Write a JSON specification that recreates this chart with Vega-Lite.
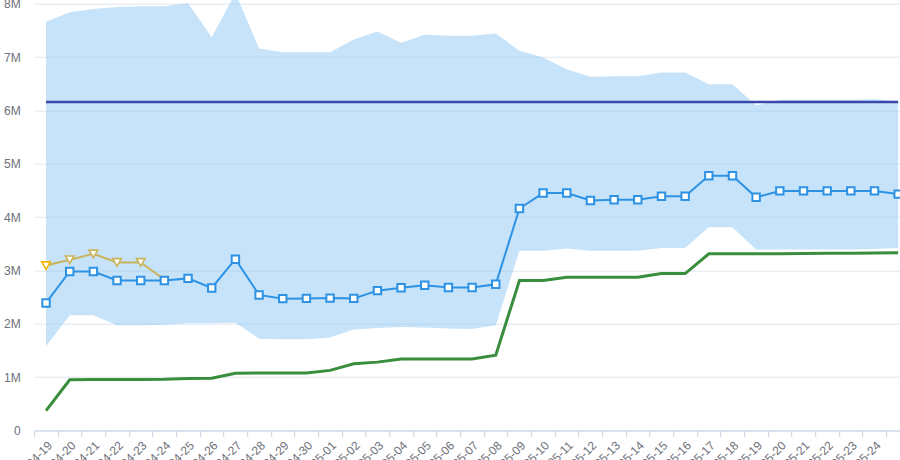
{
  "$schema": "https://vega.github.io/schema/vega-lite/v6.json",
  "autosize": {"type": "none"},
  "padding": {"left": 34.2, "top": 3.7, "right": 0, "bottom": 29.6},
  "width": 865.8,
  "height": 426.7,
  "background": "white",
  "config": {
    "view": {"stroke": null},
    "font": "Liberation Sans",
    "axis": {"labelFont": "Liberation Sans", "labelColor": "#6e7079", "labelFontSize": 12}
  },
  "data": {
    "values": [
      {"date": "04-19", "lo": 1580000, "hi": 7660000, "avg": 2390000, "gold": 3090000, "green": 370000, "target": 6155000},
      {"date": "04-20", "lo": 2160000, "hi": 7840000, "avg": 2980000, "gold": 3200000, "green": 950000, "target": 6155000},
      {"date": "04-21", "lo": 2160000, "hi": 7900000, "avg": 2980000, "gold": 3310000, "green": 955000, "target": 6155000},
      {"date": "04-22", "lo": 1970000, "hi": 7940000, "avg": 2810000, "gold": 3150000, "green": 955000, "target": 6155000},
      {"date": "04-23", "lo": 1970000, "hi": 7950000, "avg": 2810000, "gold": 3150000, "green": 955000, "target": 6155000},
      {"date": "04-24", "lo": 1980000, "hi": 7950000, "avg": 2810000, "gold": 2830000, "green": 960000, "target": 6155000},
      {"date": "04-25", "lo": 2010000, "hi": 8010000, "avg": 2850000, "gold": null, "green": 975000, "target": 6155000},
      {"date": "04-26", "lo": 2010000, "hi": 7370000, "avg": 2670000, "gold": null, "green": 980000, "target": 6155000},
      {"date": "04-27", "lo": 2020000, "hi": 8200000, "avg": 3210000, "gold": null, "green": 1070000, "target": 6155000},
      {"date": "04-28", "lo": 1720000, "hi": 7160000, "avg": 2540000, "gold": null, "green": 1075000, "target": 6155000},
      {"date": "04-29", "lo": 1710000, "hi": 7090000, "avg": 2470000, "gold": null, "green": 1075000, "target": 6155000},
      {"date": "04-30", "lo": 1710000, "hi": 7090000, "avg": 2475000, "gold": null, "green": 1075000, "target": 6155000},
      {"date": "05-01", "lo": 1740000, "hi": 7090000, "avg": 2480000, "gold": null, "green": 1125000, "target": 6155000},
      {"date": "05-02", "lo": 1890000, "hi": 7330000, "avg": 2475000, "gold": null, "green": 1250000, "target": 6155000},
      {"date": "05-03", "lo": 1920000, "hi": 7480000, "avg": 2620000, "gold": null, "green": 1280000, "target": 6155000},
      {"date": "05-04", "lo": 1940000, "hi": 7270000, "avg": 2675000, "gold": null, "green": 1340000, "target": 6155000},
      {"date": "05-05", "lo": 1930000, "hi": 7420000, "avg": 2720000, "gold": null, "green": 1340000, "target": 6155000},
      {"date": "05-06", "lo": 1910000, "hi": 7400000, "avg": 2680000, "gold": null, "green": 1340000, "target": 6155000},
      {"date": "05-07", "lo": 1900000, "hi": 7400000, "avg": 2680000, "gold": null, "green": 1340000, "target": 6155000},
      {"date": "05-08", "lo": 1970000, "hi": 7440000, "avg": 2740000, "gold": null, "green": 1410000, "target": 6155000},
      {"date": "05-09", "lo": 3370000, "hi": 7120000, "avg": 4160000, "gold": null, "green": 2810000, "target": 6155000},
      {"date": "05-10", "lo": 3370000, "hi": 6990000, "avg": 4450000, "gold": null, "green": 2810000, "target": 6155000},
      {"date": "05-11", "lo": 3410000, "hi": 6770000, "avg": 4450000, "gold": null, "green": 2870000, "target": 6155000},
      {"date": "05-12", "lo": 3370000, "hi": 6630000, "avg": 4310000, "gold": null, "green": 2870000, "target": 6155000},
      {"date": "05-13", "lo": 3370000, "hi": 6640000, "avg": 4325000, "gold": null, "green": 2870000, "target": 6155000},
      {"date": "05-14", "lo": 3370000, "hi": 6640000, "avg": 4325000, "gold": null, "green": 2870000, "target": 6155000},
      {"date": "05-15", "lo": 3420000, "hi": 6710000, "avg": 4390000, "gold": null, "green": 2940000, "target": 6155000},
      {"date": "05-16", "lo": 3420000, "hi": 6710000, "avg": 4390000, "gold": null, "green": 2940000, "target": 6155000},
      {"date": "05-17", "lo": 3810000, "hi": 6490000, "avg": 4775000, "gold": null, "green": 3310000, "target": 6155000},
      {"date": "05-18", "lo": 3810000, "hi": 6490000, "avg": 4775000, "gold": null, "green": 3310000, "target": 6155000},
      {"date": "05-19", "lo": 3390000, "hi": 6090000, "avg": 4370000, "gold": null, "green": 3310000, "target": 6155000},
      {"date": "05-20", "lo": 3390000, "hi": 6200000, "avg": 4490000, "gold": null, "green": 3310000, "target": 6155000},
      {"date": "05-21", "lo": 3390000, "hi": 6200000, "avg": 4490000, "gold": null, "green": 3315000, "target": 6155000},
      {"date": "05-22", "lo": 3390000, "hi": 6200000, "avg": 4490000, "gold": null, "green": 3320000, "target": 6155000},
      {"date": "05-23", "lo": 3390000, "hi": 6200000, "avg": 4490000, "gold": null, "green": 3320000, "target": 6155000},
      {"date": "05-24", "lo": 3400000, "hi": 6210000, "avg": 4490000, "gold": null, "green": 3325000, "target": 6155000},
      {"date": "05-25", "lo": 3420000, "hi": 6170000, "avg": 4430000, "gold": null, "green": 3330000, "target": 6155000}
    ]
  },
  "encoding": {
    "x": {
      "field": "date",
      "type": "ordinal",
      "sort": null,
      "bandPosition": 0.5,
      "scale": {"type": "band", "paddingInner": 0, "paddingOuter": 0, "range": [0, 875.8]},
      "axis": {
        "title": null,
        "labelAngle": -45,
        "tickBand": "extent",
        "values": ["04-19","04-20","04-21","04-22","04-23","04-24","04-25","04-26","04-27","04-28","04-29","04-30","05-01","05-02","05-03","05-04","05-05","05-06","05-07","05-08","05-09","05-10","05-11","05-12","05-13","05-14","05-15","05-16","05-17","05-18","05-19","05-20","05-21","05-22","05-23","05-24"],
        "domainColor": "#c5d0e3",
        "tickColor": "#c5d0e3",
        "tickSize": 6,
        "grid": false,
        "labelPadding": 3,
        "labelOverlap": false,
        "labelBound": false,
        "labelFontSize": 12
      }
    }
  },
  "layer": [
    {
      "mark": {"type": "area", "color": "#8ec8f6", "opacity": 0.5},
      "encoding": {
        "y": {
          "field": "lo",
          "type": "quantitative",
          "scale": {"domain": [0, 8000000], "nice": false, "zero": true},
          "axis": {
            "title": null,
            "values": [0, 1000000, 2000000, 3000000, 4000000, 5000000, 6000000, 7000000, 8000000],
            "labelExpr": "datum.value == 0 ? '0' : (datum.value / 1000000) + 'M'",
            "domain": false,
            "ticks": false,
            "tickSize": 0,
            "labelPadding": 14,
            "grid": true,
            "gridColor": "#e0e6f1",
            "gridWidth": 1
          }
        },
        "y2": {"field": "hi"}
      }
    },
    {
      "mark": {"type": "line", "color": "#3949ab", "strokeWidth": 2.5},
      "encoding": {"y": {"field": "target", "type": "quantitative"}}
    },
    {
      "mark": {"type": "line", "color": "#388e3c", "strokeWidth": 3},
      "encoding": {"y": {"field": "green", "type": "quantitative"}}
    },
    {
      "mark": {"type": "line", "color": "#c9b45c", "strokeWidth": 2},
      "encoding": {"y": {"field": "gold", "type": "quantitative"}}
    },
    {
      "transform": [{"filter": "datum.gold != null && datum.date != '04-24'"}],
      "mark": {"type": "point", "shape": "triangle-down", "filled": true, "fill": "white", "strokeWidth": 1.6, "size": 75, "opacity": 1},
      "encoding": {
        "y": {"field": "gold", "type": "quantitative"},
        "stroke": {
          "condition": {"test": "datum.date == '04-19'", "value": "#f2b600"},
          "value": "#c9b45c"
        }
      }
    },
    {
      "mark": {"type": "line", "color": "#2d92e4", "strokeWidth": 2},
      "encoding": {"y": {"field": "avg", "type": "quantitative"}}
    },
    {
      "mark": {"type": "point", "shape": "square", "filled": true, "fill": "white", "stroke": "#2d92e4", "strokeWidth": 2, "size": 55, "opacity": 1},
      "encoding": {"y": {"field": "avg", "type": "quantitative"}}
    }
  ]
}
